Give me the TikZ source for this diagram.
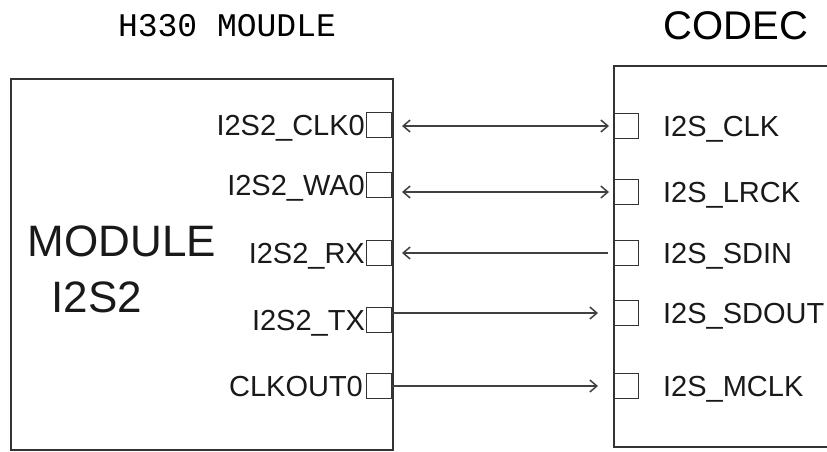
\documentclass[tikz,border=0pt]{standalone}
\usepackage{fontspec}
\setmainfont{Liberation Sans}
\newfontfamily\titlemono{Liberation Mono}
\usetikzlibrary{arrows.meta}

\begin{document}
\begin{tikzpicture}[x=1pt, y=-1pt, line width=1.5pt,
    pinbox/.style={draw=black!80, line width=1.4pt, minimum width=25pt, minimum height=25pt, inner sep=0pt},
    lname/.style={anchor=east, inner sep=0pt, text height=21pt, text depth=0pt, font=\fontsize{29}{29}\selectfont, text=black!90},
    rname/.style={anchor=west, inner sep=0pt, text height=21pt, text depth=0pt, font=\fontsize{29}{29}\selectfont, text=black!90},
    sig/.style={draw=black!75, line width=1.5pt, >={Straight Barb[length=7pt, width=12pt]}}]
    \useasboundingbox (0,0) rectangle (827,451);
    \clip (0,0) rectangle (827,451);

    % titles
    \node[font=\titlemono\fontsize{33}{33}\selectfont] (title) at (227,26) {H330 MOUDLE};
    \node[font=\fontsize{40}{40}\selectfont] (codectitle) at (736,26) {CODEC};

    % the two blocks
    \node[draw=black!80, anchor=north west, minimum width=382pt, minimum height=371pt] (h330) at (10,78) {};
    \node[draw=black!80, anchor=north west, minimum width=260pt, minimum height=381pt] (codec) at (613,65) {};
    \node[font=\fontsize{44}{44}\selectfont, text=black!90] (modname) at (122,241) {MODULE};
    \node[font=\fontsize{44}{44}\selectfont, text=black!90] (i2sname) at (97,297) {I2S2};

    % module pins
    \node[pinbox, anchor=east] (lclk) at (392,125) {};
    \node[pinbox, anchor=east] (lwa) at (392,185) {};
    \node[pinbox, anchor=east] (lrx) at (392,253) {};
    \node[pinbox, anchor=east] (ltx) at (392,320) {};
    \node[pinbox, anchor=east] (lmclk) at (392,386) {};
    \node[lname] at (lclk.west) {I2S2\_CLK0};
    \node[lname] at (lwa.west) {I2S2\_WA0};
    \node[lname] at (lrx.west) {I2S2\_RX};
    \node[lname] at (ltx.west) {I2S2\_TX};
    \node[lname] at ([xshift=-2pt]lmclk.west) {CLKOUT0};

    % codec pins
    \node[pinbox, anchor=west] (rclk) at (613,126) {};
    \node[pinbox, anchor=west] (rlrck) at (613,192) {};
    \node[pinbox, anchor=west] (rsdin) at (613,253) {};
    \node[pinbox, anchor=west] (rsdout) at (613,313) {};
    \node[pinbox, anchor=west] (rmclk) at (613,386) {};
    \node[rname] at ([xshift=23pt]rclk.east) {I2S\_CLK};
    \node[rname] at ([xshift=23pt]rlrck.east) {I2S\_LRCK};
    \node[rname] at ([xshift=23pt]rsdin.east) {I2S\_SDIN};
    \node[rname] at ([xshift=23pt]rsdout.east) {I2S\_SDOUT};
    \node[rname] at ([xshift=23pt]rmclk.east) {I2S\_MCLK};

    \path[sig]
        (lclk.east |- rclk) edge[<->, shorten <=10pt, shorten >=4pt] (rclk.west)
        (lwa.east |- rlrck) edge[<->, shorten <=10pt, shorten >=4pt] (rlrck.west)
        (lrx.east |- rsdin) edge[<-, shorten <=10pt, shorten >=5pt] (rsdin.west)
        (ltx.east |- rsdout) edge[->, shorten >=15pt] (rsdout.west)
        (lmclk.east |- rmclk) edge[->, shorten >=15pt] (rmclk.west);
\end{tikzpicture}
\end{document}
